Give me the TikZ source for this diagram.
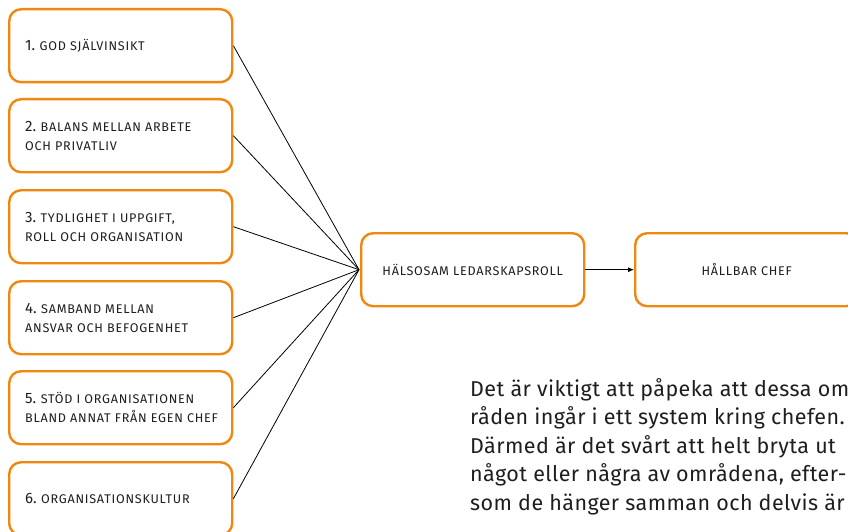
\documentclass[tikz,border=0pt]{standalone}
\usepackage{fontspec}
\setmainfont{Fira Sans}[Ligatures=NoCommon]
\newfontfamily\capsfont{Fira Sans}[LetterSpace=6]
\newfontfamily\parafont{Fira Sans}[Ligatures=NoCommon,LetterSpace=2]
\usetikzlibrary{arrows.meta}
\definecolor{boxorange}{HTML}{F0870F}
\definecolor{txt}{HTML}{1E1E1E}
\newcommand{\numlab}[1]{{\fontsize{15}{19}\selectfont #1}}
\newcommand{\sclab}[1]{{\capsfont\fontsize{12.6}{19}\selectfont #1}}
\tikzset{
  leftbox/.style={draw=boxorange, line width=2.4pt, rounded corners=12pt, fill=white,
    minimum width=223pt, minimum height=73pt, inner sep=0pt, anchor=north west},
  boxlabel/.style={anchor=west, align=left, inner sep=0pt, text=txt,
    font=\fontsize{12.6}{19}\selectfont},
  midbox/.style={draw=boxorange, line width=2.4pt, rounded corners=12pt, fill=white,
    minimum width=223pt, minimum height=73pt, align=center, anchor=north west, text=txt},
  link/.style={line width=0.8pt, black}
}
\begin{document}
\begin{tikzpicture}[x=1pt,y=-1pt]
\useasboundingbox (0,0) rectangle (848,532);
\clip (0,0) rectangle (848,532);
\node[leftbox] (b1) at (8,8) {};
\node[leftbox] (b2) at (8,98) {};
\node[leftbox] (b3) at (8,189) {};
\node[leftbox] (b4) at (8,280) {};
\node[leftbox] (b5) at (8,370) {};
\node[leftbox] (b6) at (8,461) {};
\node[boxlabel] (l1) at ([xshift=17pt]b1.west) {\numlab{1.} \sclab{GOD SJÄLVINSIKT}};
\node[boxlabel] (l2) at ([xshift=17pt]b2.west) {\numlab{2.} \sclab{BALANS MELLAN ARBETE}\\\sclab{OCH PRIVATLIV}};
\node[boxlabel] (l3) at ([xshift=17pt]b3.west) {\numlab{3.} \sclab{TYDLIGHET I UPPGIFT,}\\\sclab{ROLL OCH ORGANISATION}};
\node[boxlabel] (l4) at ([xshift=17pt]b4.west) {\numlab{4.} \sclab{SAMBAND MELLAN}\\\sclab{ANSVAR OCH BEFOGENHET}};
\node[boxlabel] (l5) at ([xshift=17pt]b5.west) {\numlab{5.} \sclab{STÖD I ORGANISATIONEN}\\\sclab{BLAND ANNAT FRÅN EGEN CHEF}};
\node[boxlabel] (l6) at ([xshift=17pt]b6.west) {\numlab{6.} \sclab{ORGANISATIONSKULTUR}};
\node[midbox] (mid) at (360,232) {\sclab{HÄLSOSAM LEDARSKAPSROLL}};
\node[midbox] (end) at (634,232) {\sclab{HÅLLBAR CHEF}};
\coordinate (hub) at ([xshift=-1pt]mid.west);
\foreach \b in {b1,b2,b3,b4,b5,b6}{
  \draw[link] (\b.east) -- (hub);
}
\draw[link, -{Latex[length=6pt,width=5pt]}] (mid.east) -- (end.west);
\node[anchor=base west, align=left, text=txt, inner sep=0pt,
  font=\parafont\fontsize{21.5}{28.5}\selectfont] (para) at (470,510)
  {Det är viktigt att påpeka att dessa om-\\råden ingår i ett system kring chefen.\\Därmed är det svårt att helt bryta ut\\något eller några av områdena, efter-\\som de hänger samman och delvis är};
\end{tikzpicture}
\end{document}
